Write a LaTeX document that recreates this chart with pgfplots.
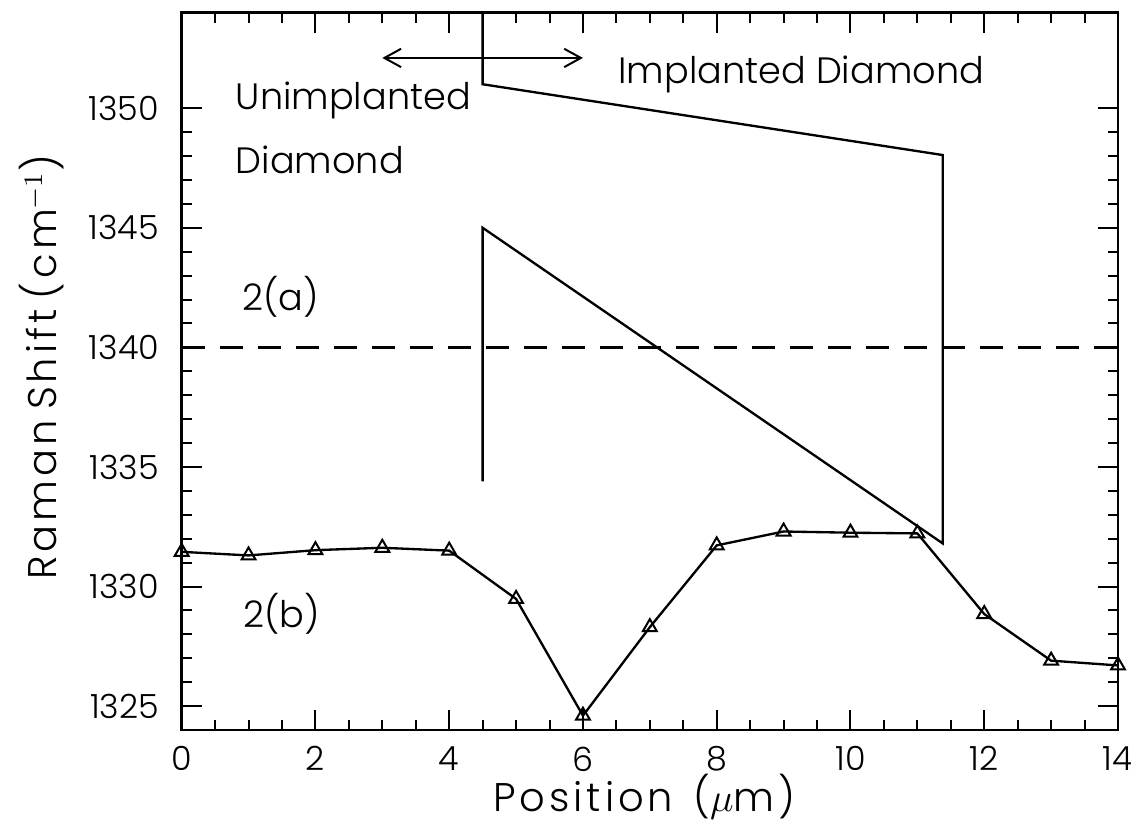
\documentclass[border=0pt]{standalone}
\usepackage{fontspec}
\setmainfont{Poppins}[UprightFont=* Light]
\newfontfamily\labelfont{Poppins}[UprightFont=* Light, LetterSpace=10]
\usepackage{pgfplots}
\pgfplotsset{compat=1.18}
\usetikzlibrary{arrows.meta}
\begin{document}
\begin{tikzpicture}
\begin{axis}[
  name=ax,
  scale only axis,
  width=280.9pt, height=215.25pt,
  xmin=0, xmax=14, ymin=1324, ymax=1354,
  xtick={0,2,...,14}, minor x tick num=3,
  ytick={1325,1330,...,1350}, minor y tick num=4,
  tick align=inside,
  major tick length=6pt, minor tick length=3pt,
  every tick/.style={black, line width=0.6pt},
  axis line style={line width=0.8pt},
  /pgf/number format/assume math mode=true,
  /pgf/number format/1000 sep={},
  tick label style={font=\fontsize{10}{12}\selectfont, inner sep=1pt},
  yticklabel style={xshift=-5.6pt},
  xticklabel style={yshift=-3.8pt},
  xlabel={Position\hspace{0.5em}($\mu$m)},
  ylabel={Raman\hspace{0.25em}Shift\hspace{0.25em}(cm$^{-1}$)},
  label style={font=\labelfont\fontsize{12}{14}\selectfont, inner sep=1pt},
  xlabel style={at={(axis description cs:0.494,-0.114)}, anchor=base},
  ylabel style={at={(axis description cs:-0.1335,0.506)}, anchor=base},
]
% 2(b) measured
\addplot[black, line width=0.7pt, mark=triangle, mark size=2.4pt, mark options={solid, fill=white, line width=0.6pt}]
coordinates {
(0,1331.45) (1,1331.3) (2,1331.52) (3,1331.62) (4,1331.5) (5,1329.48) (6,1324.6)
(7,1328.3) (8,1331.72) (9,1332.3) (10,1332.25) (11,1332.22) (12,1328.85) (13,1326.9) (14,1326.7)
};
% 2(a) level
\addplot[black, line width=0.7pt, dash pattern=on 6.9pt off 4.5pt] coordinates {(0,1340) (14,1340)};
% model profile
\addplot[black, line width=0.7pt] coordinates {
(4.5,1334.4) (4.5,1345) (11.38,1331.8) (11.38,1348.04) (4.5,1351.0) (4.5,1354)
};
% arrow
\addplot[black, line width=0.6pt, {Straight Barb[length=5pt,width=5.5pt]}-{Straight Barb[length=5pt,width=5.5pt]}] coordinates {(3,1352.1) (6,1352.1)};
\node[anchor=base west, inner sep=0pt, font=\fontsize{11}{14}\selectfont] at (axis cs:0.8,1349.96) {Unimplanted};
\node[anchor=base west, inner sep=0pt, font=\fontsize{11}{14}\selectfont] at (axis cs:0.8,1347.25) {Diamond};
\node[anchor=base west, inner sep=0pt, font=\fontsize{11}{14}\selectfont] at (axis cs:6.52,1351.04) {Implanted Diamond};
\node[anchor=base west, inner sep=0pt, font=\fontsize{11}{14}\selectfont] at (axis cs:0.9,1341.54) {2(a)};
\node[anchor=base west, inner sep=0pt, font=\fontsize{11}{14}\selectfont] at (axis cs:0.91,1328.28) {2(b)};
\end{axis}
\pgfresetboundingbox
\path[use as bounding box] ([shift={(-54.5pt,-30.6pt)}]ax.south west) rectangle ([shift={(3.9pt,3.75pt)}]ax.north east);
\end{tikzpicture}
\end{document}
